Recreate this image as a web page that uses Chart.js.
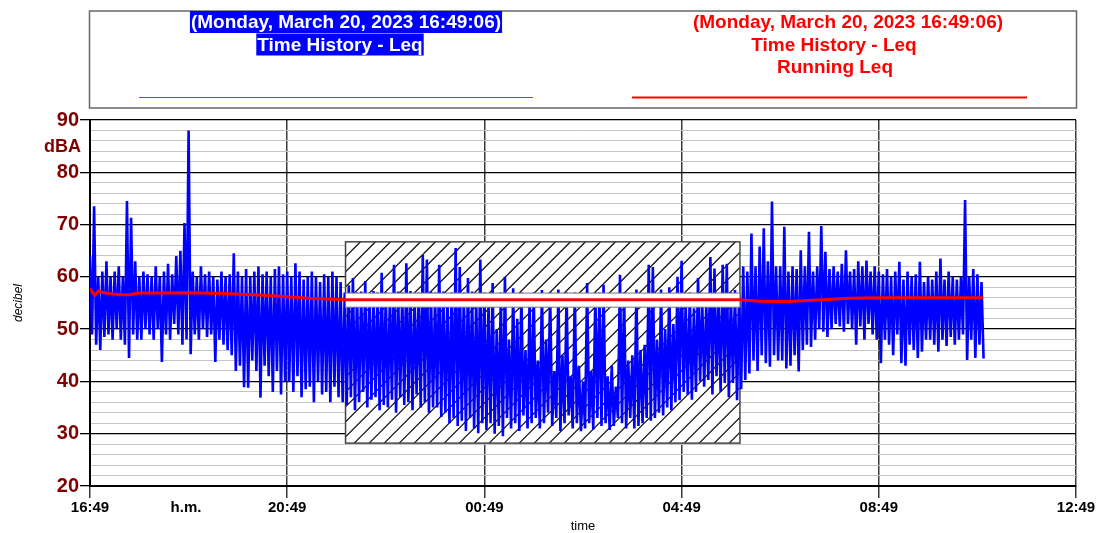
<!DOCTYPE html>
<html>
<head>
<meta charset="utf-8">
<script src="https://cdn.jsdelivr.net/npm/chart.js@4.4.0/dist/chart.umd.min.js"></script>
<style>
  body { margin: 0; background: #fff; }
  canvas { display: block; }
</style>
</head>
<body>
<canvas id="leqChart" width="1097" height="533"></canvas>
<script>
// x is minutes since 16:49, one labelled tick every 4 hours
var timeTicks = ['16:49', '20:49', '00:49', '04:49', '08:49', '12:49'];
var levelTicks = [20, 30, 40, 50, 60, 70, 80, 90];

// Leq time history, one peak + one dip per 5 minutes (dBA), one row per hour
var leqHigh = [
  64, 73.5, 60, 61, 63, 60, 61, 62, 60, 74.5, 71.3, 63,          // 16:49
  60, 61, 60.5, 60, 62, 60, 61, 62.5, 60.5, 64, 65, 70.3,        // 17:49
  88, 61, 60, 62, 60.5, 61, 60, 59.5, 61, 60, 60.5, 64.5,        // 18:49
  61, 60, 61.5, 60, 61, 62, 60.5, 61, 60, 61.5, 62, 60.5,        // 19:49
  61, 60, 62.6, 61, 59.5, 60, 61, 60, 59, 60.5, 60, 61,          // 20:49
  60, 59, 57, 58.4, 59.8, 57, 57.2, 59.2, 56.8, 57.3, 57, 60.8,  // 21:49
  57, 56.8, 62.3, 57.2, 57, 62.6, 57.3, 56.5, 57, 64.2, 63.3, 57.2, // 22:49
  57, 62.3, 57.2, 56.8, 57, 65.5, 61.9, 57, 59.8, 57.2, 56.5, 63.3, // 23:49
  57, 55, 58.8, 50, 57, 60, 48, 57.8, 52, 57, 46, 56,            // 00:49
  57, 44, 57.5, 48, 57, 42, 57.6, 45, 57, 41, 57, 43,            // 01:49
  40, 58.8, 42, 57, 57, 58.5, 41, 43, 39, 60.4, 57, 44,          // 02:49
  45, 57.6, 46, 47, 62.3, 61.9, 48, 57.6, 50, 58, 51, 60,        // 03:49
  63.1, 55, 57, 54, 59.8, 56, 55, 63.8, 61.6, 56, 62.3, 62.5,    // 04:49
  57, 57.5, 56.8, 62, 61, 68.3, 62, 65.8, 69.3, 63, 74.4, 62,    // 05:49
  62, 69.6, 61, 62, 61.5, 65.1, 62, 68.6, 61, 62, 69.7, 64.8,    // 06:49
  61.5, 62, 61, 62.5, 65.1, 61, 61.5, 63, 62, 63.1, 61, 62,      // 07:49
  61, 60.5, 61.5, 60, 61, 62.9, 59.5, 61, 60, 60.5, 62.9, 59,    // 08:49
  60, 59.5, 61, 63.5, 59.5, 61, 60, 59.5, 60, 74.7, 60, 61.5,    // 09:49
  60.5, 59                                                       // 10:49
];
var leqLow = [
  49, 47, 46, 48.5, 49, 48, 50, 48, 47, 44.5, 49, 48,            // 16:49
  48, 50, 49, 48, 50, 43.7, 49, 48, 51, 49, 47, 48,              // 17:49
  45.2, 49, 48, 50, 48.5, 49, 43.7, 48, 47, 46, 45, 42,          // 18:49
  43, 38.9, 38.8, 44, 42, 36.9, 43, 41, 38, 42, 37.5, 40,        // 19:49
  40, 38, 41, 37, 38.5, 39, 36, 40, 37.5, 38, 36, 39,            // 20:49
  37, 36, 35.5, 37, 34.5, 36, 38, 35, 36.5, 37, 34.5, 35.5,      // 21:49
  35, 36.5, 34, 37, 35.5, 36, 34.5, 37.5, 35, 36, 34, 35,        // 22:49
  35, 33.2, 34, 32, 33, 31.5, 32.5, 30.5, 33, 31, 30.1, 32,      // 23:49
  30.7, 32, 30, 31.5, 29.5, 33, 31, 32, 30.5, 33.5, 31, 32,      // 00:49
  33, 31, 32, 34, 31.5, 33, 30.5, 32, 33.5, 31, 32, 30.5,        // 01:49
  31, 32, 30.8, 33, 31.5, 32, 30.7, 31.5, 33, 32, 31, 33,        // 02:49
  31, 31.5, 32, 33, 32.5, 33, 34, 33.5, 35, 34.5, 36, 36.4,      // 03:49
  38, 37.4, 36.5, 38, 40, 39, 40.3, 37.5, 41, 38, 39.7, 37,      // 04:49
  39.7, 36.4, 38.5, 40.3, 41.5, 44, 42, 45, 43.5, 42.8, 45, 44,  // 05:49
  44, 42.5, 43, 45, 41.9, 46, 47, 46.6, 48, 50, 49.5, 48.5,      // 06:49
  50, 51, 50.5, 49.5, 51, 50, 47, 50.5, 48, 51, 49, 48,          // 07:49
  43.5, 48, 47, 45, 49, 43.5, 43, 47, 46, 44.5, 45.7, 48,        // 08:49
  48, 47, 45.7, 48, 46.8, 48.5, 47, 48, 49, 44.1, 48, 44.5,      // 09:49
  47, 44.4                                                       // 10:49
];

// running Leq
var runTimes = [0, 3, 6, 10, 16, 24, 36, 48, 60, 80, 120, 160, 200, 231, 267, 311, 400, 500, 600, 700, 791, 815, 850, 890, 925, 960, 1000, 1040, 1087];
var runLeq = [57.8, 57.0, 56.5, 57.3, 57.0, 56.8, 56.6, 56.6, 56.9, 56.9, 56.95, 56.8, 56.6, 56.3, 55.9, 55.6, 55.6, 55.6, 55.6, 55.6, 55.6, 55.35, 55.3, 55.6, 55.9, 56.0, 56.0, 56.0, 56.0];

// hatched night period 22:00 - 06:00
var nightZone = { from: 311, to: 791, low: 28.2, high: 66.7, bandLow: 54.2, bandHigh: 56.9 };

var leqPoints = [];
for (var i = 0; i < leqHigh.length; i++) {
  leqPoints.push({ x: i * 5, y: leqHigh[i] });
  leqPoints.push({ x: i * 5 + 2.5, y: leqLow[i] });
}
var runPoints = runTimes.map(function (t, i) { return { x: t, y: runLeq[i] }; });

var FONT = '"Liberation Sans", Arial, sans-serif';
var DARK_RED = '#800000';

var decor = {
  id: 'decor',
  beforeDatasetsDraw: function (chart) {
    var ctx = chart.ctx, xs = chart.scales.x, ys = chart.scales.y;
    var x0 = xs.getPixelForValue(nightZone.from), x1 = xs.getPixelForValue(nightZone.to);
    var yt = ys.getPixelForValue(nightZone.high), yb = ys.getPixelForValue(nightZone.low);
    ctx.save();
    ctx.fillStyle = '#fff';
    ctx.fillRect(x0, yt, x1 - x0, yb - yt);
    ctx.beginPath();
    ctx.rect(x0, yt, x1 - x0, yb - yt);
    ctx.clip();
    ctx.strokeStyle = '#111';
    ctx.lineWidth = 1.3;
    ctx.beginPath();
    var h = yb - yt;
    for (var k = x0 - h; k < x1; k += 15) {
      ctx.moveTo(k, yb);
      ctx.lineTo(k + h, yt);
    }
    ctx.stroke();
    ctx.restore();
    ctx.save();
    ctx.strokeStyle = '#444';
    ctx.lineWidth = 1.5;
    ctx.strokeRect(x0, yt, x1 - x0, yb - yt);
    ctx.restore();
  },
  beforeDatasetDraw: function (chart, args) {
    if (args.index !== 1) return;
    var ctx = chart.ctx, xs = chart.scales.x, ys = chart.scales.y;
    var x0 = xs.getPixelForValue(nightZone.from), x1 = xs.getPixelForValue(nightZone.to);
    var yt = ys.getPixelForValue(nightZone.bandHigh), yb = ys.getPixelForValue(nightZone.bandLow);
    ctx.save();
    ctx.fillStyle = '#fff';
    ctx.fillRect(x0, yt, x1 - x0, yb - yt);
    ctx.strokeStyle = '#777';
    ctx.lineWidth = 1;
    ctx.strokeRect(x0, yt, x1 - x0, yb - yt);
    ctx.restore();
  },
  afterDraw: function (chart) {
    var ctx = chart.ctx;
    ctx.save();
    // legend box
    ctx.strokeStyle = '#666';
    ctx.lineWidth = 1.5;
    ctx.strokeRect(89.5, 11, 987, 97);
    ctx.font = 'bold 19px ' + FONT;
    ctx.textAlign = 'center';
    ctx.textBaseline = 'middle';
    var blueLines = ['(Monday, March 20, 2023 16:49:06)', 'Time History - Leq'];
    var blueX = [346, 340];
    blueLines.forEach(function (t, i) {
      var cy = 22 + i * 22.5;
      var w = ctx.measureText(t).width;
      ctx.fillStyle = '#0000ff';
      ctx.fillRect(blueX[i] - w / 2 - 1, cy - 11, w + 2, 22);
      ctx.fillStyle = '#fff';
      ctx.fillText(t, blueX[i], cy + 1);
    });
    var redLines = ['(Monday, March 20, 2023 16:49:06)', 'Time History - Leq', 'Running Leq'];
    var redX = [848, 834, 835];
    ctx.fillStyle = '#ff0000';
    redLines.forEach(function (t, i) {
      ctx.fillText(t, redX[i], 23 + i * 22.5);
    });
    ctx.strokeStyle = '#4a4aff';
    ctx.lineWidth = 1.2;
    ctx.beginPath();
    ctx.moveTo(139, 97.5);
    ctx.lineTo(533, 97.5);
    ctx.stroke();
    ctx.strokeStyle = '#ff0000';
    ctx.lineWidth = 2;
    ctx.beginPath();
    ctx.moveTo(632, 97.5);
    ctx.lineTo(1027, 97.5);
    ctx.stroke();
    // unit labels
    ctx.fillStyle = DARK_RED;
    ctx.font = 'bold 18px ' + FONT;
    ctx.textAlign = 'right';
    ctx.fillText('dBA', 81, 147);
    ctx.fillStyle = '#000';
    ctx.font = 'bold 15px ' + FONT;
    ctx.textAlign = 'center';
    ctx.fillText('h.m.', 186, 508);
    ctx.restore();
  }
};

new Chart(document.getElementById('leqChart'), {
  type: 'line',
  data: {
    datasets: [{
      label: 'Time History - Leq',
      data: leqPoints,
      borderColor: '#0000ff',
      borderWidth: 2.6,
      borderJoinStyle: 'miter',
      pointRadius: 0,
      tension: 0,
      order: 2
    }, {
      label: 'Running Leq',
      data: runPoints,
      borderColor: '#ff0000',
      borderWidth: 3,
      pointRadius: 0,
      tension: 0,
      order: 1
    }]
  },
  options: {
    responsive: false,
    animation: false,
    layout: { padding: { top: 120, right: 21, bottom: 0, left: 0 } },
    plugins: {
      legend: { display: false },
      tooltip: { enabled: false }
    },
    scales: {
      x: {
        type: 'linear',
        min: 0,
        max: 1200,
        afterFit: function (s) { s.height = 47; },
        ticks: {
          stepSize: 240,
          autoSkip: false,
          maxRotation: 0,
          padding: 1,
          color: '#000',
          font: { family: FONT, size: 15, weight: 'bold' },
          callback: function (v, i) { return timeTicks[i]; }
        },
        grid: { color: '#3a3a3a', lineWidth: 1.5, tickLength: 12 },
        border: { color: '#000', width: 2 },
        title: {
          display: true,
          text: 'time',
          color: '#000',
          padding: { top: 0, bottom: 0 },
          font: { family: FONT, size: 13, lineHeight: 1 }
        }
      },
      y: {
        min: 20,
        max: 90,
        afterFit: function (s) { s.width = 90; },
        ticks: {
          stepSize: 2,
          autoSkip: false,
          padding: 1,
          color: DARK_RED,
          font: { family: FONT, size: 20, weight: 'bold' },
          callback: function (v) { return levelTicks.indexOf(v) >= 0 ? v : ''; }
        },
        grid: {
          tickLength: 10,
          color: function (c) { return c.tick && c.tick.value % 10 === 0 ? '#000' : '#c4c4c4'; },
          lineWidth: function (c) { return c.tick && c.tick.value % 10 === 0 ? 1.3 : 1; },
          tickColor: function (c) { return c.tick && c.tick.value % 10 === 0 ? '#000' : 'rgba(0,0,0,0)'; }
        },
        border: { color: '#000', width: 2 },
        title: {
          display: true,
          text: 'decibel',
          color: '#000',
          padding: { top: 11 },
          font: { family: FONT, size: 12, style: 'italic' }
        }
      }
    }
  },
  plugins: [decor]
});
</script>
</body>
</html>
